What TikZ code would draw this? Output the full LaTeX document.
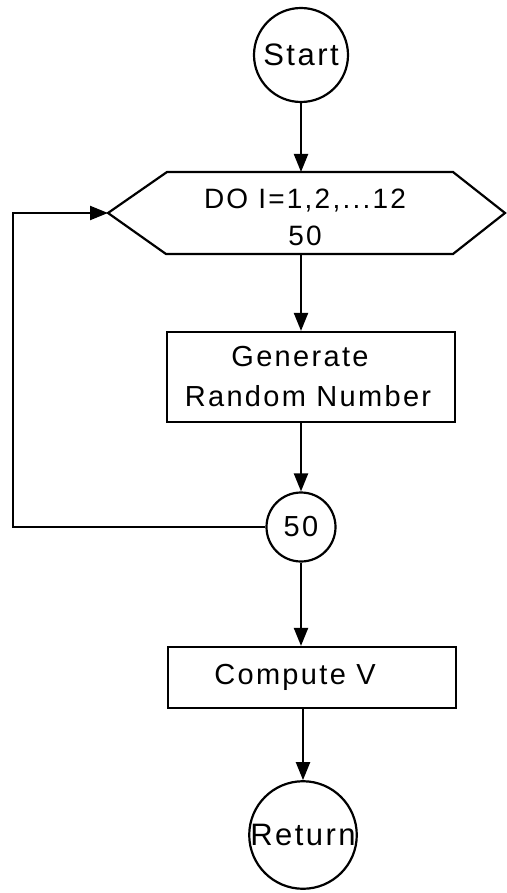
\documentclass[tikz,border=0pt]{standalone}
\usepackage{fontspec}
\setmainfont{Liberation Sans}[LetterSpace=8]
\usetikzlibrary{arrows.meta}
\begin{document}
\begin{tikzpicture}[x=1pt,y=-1pt,
  line width=2.2pt,
  arr/.style={-{Triangle[length=18pt,width=14pt]}},
  term/.style={draw,circle,inner sep=0pt,font=\fontsize{31}{36}\selectfont},
  proc/.style={draw,rectangle,minimum width=288pt,inner sep=0pt,align=center,font=\fontsize{29}{40}\selectfont},
  lbl/.style={align=center,inner sep=0pt,font=\fontsize{28}{37}\selectfont}]
\useasboundingbox (0,0) rectangle (506,893);
% terminals and boxes
\node[term,minimum size=94pt] (start) at (301,55) {Start};
\coordinate (hexW) at (108,213);
\coordinate (hexE) at (505,213);
\coordinate (hexN) at (301,172);
\coordinate (hexS) at (301,254);
\draw[line join=miter] (hexW) -- (167,172) -- (453,172) -- (hexE) -- (453,254) -- (166,254) -- cycle;
\node[lbl] (hex) at (305,217) {DO I=1,2,...12\\50};
\node[proc,minimum height=90pt] (gen) at (311,377) {Generate\hspace*{22pt}\\Random Number\hspace*{6pt}};
\node[term,minimum size=69pt,font=\fontsize{29}{34}\selectfont] (c50) at (301,527) {50};
\node[proc,minimum height=61pt] (comp) at (312,677.5) {Compute V\hspace*{34pt}};
\node[term,minimum size=106pt] (ret) at (303,835) {Return};
% connectors
\draw[arr] (start.south) -- (hexN);
\draw[arr] (hexS) -- (hexS |- gen.north);
\draw[arr] (c50.north |- gen.south) -- (c50.north);
\draw[arr] (c50.south) -- (c50.south |- comp.north);
\draw[arr] (ret.north |- comp.south) -- (ret.north);
\coordinate (loopc) at (13,527);
\draw[arr] (c50.west) -- (loopc) |- (hexW);
\end{tikzpicture}
\end{document}
